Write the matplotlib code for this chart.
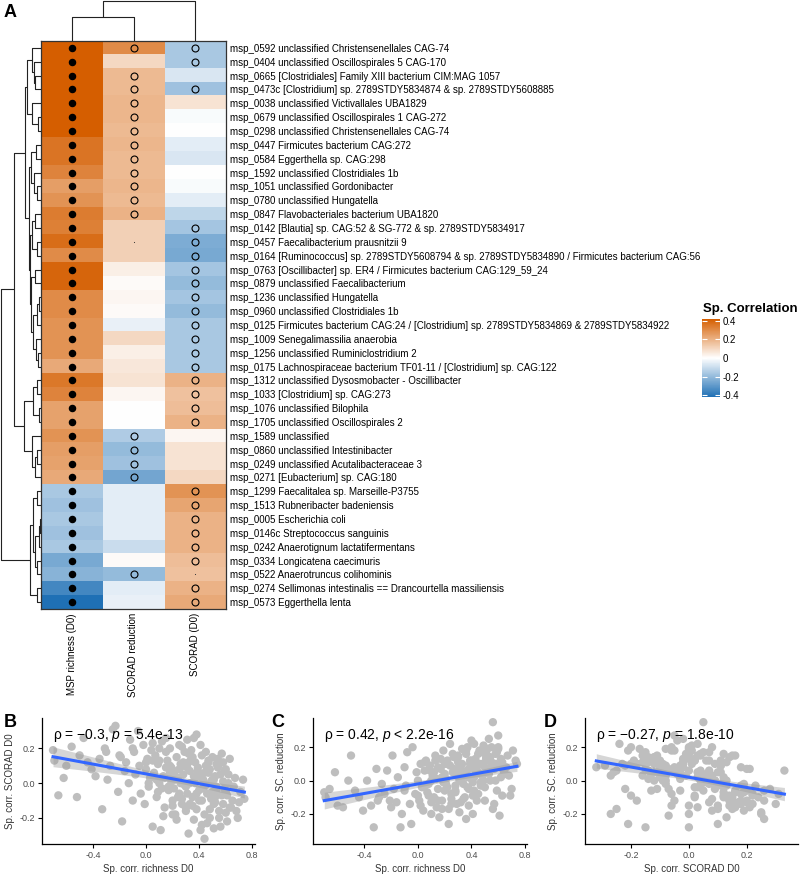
import numpy as np
import matplotlib
matplotlib.use("Agg")
import matplotlib.pyplot as plt
from matplotlib.colors import LinearSegmentedColormap

plt.rcParams['font.family'] = ['Liberation Sans', 'DejaVu Sans']
plt.rcParams['mathtext.fontset'] = 'custom'
plt.rcParams['mathtext.rm'] = 'Liberation Sans'
plt.rcParams['mathtext.it'] = 'Liberation Sans:italic'

# ---------------- heatmap data ----------------
row_labels = [
    "msp_0592 unclassified Christensenellales CAG-74",
    "msp_0404 unclassified Oscillospirales 5 CAG-170",
    "msp_0665 [Clostridiales] Family XIII bacterium CIM:MAG 1057",
    "msp_0473c [Clostridium] sp. 2789STDY5834874 & sp. 2789STDY5608885",
    "msp_0038 unclassified Victivallales UBA1829",
    "msp_0679 unclassified Oscillospirales 1 CAG-272",
    "msp_0298 unclassified Christensenellales CAG-74",
    "msp_0447 Firmicutes bacterium CAG:272",
    "msp_0584 Eggerthella sp. CAG:298",
    "msp_1592 unclassified Clostridiales 1b",
    "msp_1051 unclassified Gordonibacter",
    "msp_0780 unclassified Hungatella",
    "msp_0847 Flavobacteriales bacterium UBA1820",
    "msp_0142 [Blautia] sp. CAG:52 & SG-772 & sp. 2789STDY5834917",
    "msp_0457 Faecalibacterium prausnitzii 9",
    "msp_0164 [Ruminococcus] sp. 2789STDY5608794 & sp. 2789STDY5834890 / Firmicutes bacterium CAG:56",
    "msp_0763 [Oscillibacter] sp. ER4 / Firmicutes bacterium CAG:129_59_24",
    "msp_0879 unclassified Faecalibacterium",
    "msp_1236 unclassified Hungatella",
    "msp_0960 unclassified Clostridiales 1b",
    "msp_0125 Firmicutes bacterium CAG:24 / [Clostridium] sp. 2789STDY5834869 & 2789STDY5834922",
    "msp_1009 Senegalimassilia anaerobia",
    "msp_1256 unclassified Ruminiclostridium 2",
    "msp_0175 Lachnospiraceae bacterium TF01-11 / [Clostridium] sp. CAG:122",
    "msp_1312 unclassified Dysosmobacter - Oscillibacter",
    "msp_1033 [Clostridium] sp. CAG:273",
    "msp_1076 unclassified Bilophila",
    "msp_1705 unclassified Oscillospirales 2",
    "msp_1589 unclassified",
    "msp_0860 unclassified Intestinibacter",
    "msp_0249 unclassified Acutalibacteraceae 3",
    "msp_0271 [Eubacterium] sp. CAG:180",
    "msp_1299 Faecalitalea sp. Marseille-P3755",
    "msp_1513 Rubneribacter badeniensis",
    "msp_0005 Escherichia coli",
    "msp_0146c Streptococcus sanguinis",
    "msp_0242 Anaerotignum lactatifermentans",
    "msp_0334 Longicatena caecimuris",
    "msp_0522 Anaerotruncus colihominis",
    "msp_0274 Sellimonas intestinalis == Drancourtella massiliensis",
    "msp_0573 Eggerthella lenta",
]
col_labels = ["MSP richness (D0)", "SCORAD reduction", "SCORAD (D0)"]

corr_richness = [0.42, 0.42, 0.42, 0.42, 0.42, 0.42, 0.42, 0.36, 0.36, 0.32,
                 0.25, 0.28, 0.34, 0.33, 0.38, 0.30, 0.40, 0.40, 0.30, 0.30,
                 0.28, 0.28, 0.28, 0.22, 0.35, 0.32, 0.24, 0.24, 0.28, 0.25,
                 0.24, 0.22, -0.16, -0.18, -0.16, -0.18, -0.16, -0.25, -0.22,
                 -0.35, -0.42]
corr_reduction = [0.30, 0.10, 0.18, 0.18, 0.19, 0.19, 0.18, 0.19, 0.18, 0.18,
                  0.19, 0.18, 0.20, 0.12, 0.12, 0.12, 0.04, 0.01, 0.02, 0.01,
                  -0.04, 0.10, 0.04, 0.06, 0.07, 0.02, 0.00, 0.00, -0.15, -0.20,
                  -0.18, -0.26, -0.05, -0.05, -0.05, -0.05, -0.10, 0.01, -0.20,
                  -0.05, -0.04]
corr_scorad = [-0.16, -0.16, -0.07, -0.18, 0.07, -0.01, 0.00, -0.05, -0.07, 0.00,
               -0.01, -0.05, -0.12, -0.17, -0.24, -0.25, -0.17, -0.20, -0.17, -0.20,
               -0.16, -0.16, -0.16, -0.16, 0.20, 0.16, 0.17, 0.20, 0.02, 0.07,
               0.07, 0.10, 0.28, 0.23, 0.20, 0.20, 0.20, 0.17, 0.16, 0.20, 0.22]

# F = filled dot, O = open circle, . = tiny dot, - = nothing
sig_richness = "F" * 41
sig_reduction = "O-OOOOOOOOOOO-.-------------OOOO------O--"
sig_scorad = "OO-O---------OOOOOOOOOOOOOOO----OOOOOO.OO"

# dendrograms: (height, left, right), leaves are row / column indices
col_tree = (1.0, (0.6, 0, 1), 2)
row_tree = (1.0,
            (0.675,
             (0.40,
              (0.34,
               (0.23, 0, (0.17, 1, (0.14, 2, 3))),
               (0.22, 4, (0.07, 5, 6))),
              (0.30,
               (0.25, (0.12, 7, 8), (0.18, 9, (0.10, 10, 11))),
               (0.28,
                (0.22, (0.15, 12, 13), (0.10, 14, 15)),
                (0.24, (0.15, 16, 17),
                 (0.20, (0.10, (0.05, 18, 19), 20), (0.12, 21, (0.08, 22, 23))))))),
             (0.425,
              (0.20, (0.10, 24, 25), (0.06, 26, 27)),
              (0.22, 28, (0.15, (0.10, 29, 30), 31)))),
            (0.275,
             (0.20, (0.10, 32, 33),
              (0.15, (0.05, (0.03, 34, 35), 36), (0.10, 37, 38))),
             (0.10, 39, 40)))

# ---------------- scatter data (per-MSP correlations) ----------------
sp_richness = [
    -0.70, -0.69, -0.66, -0.62, -0.60, -0.56, -0.52, -0.50, -0.47, -0.44,
    -0.41, -0.38, -0.35, -0.33, -0.31, -0.29, -0.27, -0.25, -0.23, -0.21,
    -0.19, -0.18, -0.16, -0.15, -0.13, -0.12, -0.10, -0.09, -0.08, -0.06,
    -0.05, -0.04, -0.02, -0.01, 0.00, 0.01, 0.02, 0.03, 0.04, 0.05,
    0.06, 0.07, 0.08, 0.09, 0.10, 0.11, 0.12, 0.13, 0.14, 0.15,
    0.16, 0.17, 0.18, 0.19, 0.20, 0.21, 0.22, 0.23, 0.24, 0.25,
    0.26, 0.27, 0.28, 0.29, 0.30, 0.31, 0.32, 0.33, 0.34, 0.35,
    0.36, 0.37, 0.38, 0.39, 0.40, 0.41, 0.42, 0.43, 0.44, 0.45,
    0.46, 0.47, 0.48, 0.49, 0.50, 0.51, 0.52, 0.53, 0.54, 0.55,
    0.56, 0.57, 0.58, 0.59, 0.60, 0.61, 0.62, 0.63, 0.65, 0.67,
    0.69, 0.71, 0.73, 0.74, 0.18, 0.28, 0.38, 0.48, 0.58, 0.08,
    0.12, 0.22, 0.32, 0.42, 0.52, 0.62, 0.02, 0.15, 0.35, 0.45,
    0.55, 0.25, 0.05, 0.40, 0.30, 0.20, 0.50, 0.60, 0.10, 0.44,
    0.34, 0.24, 0.14, 0.54, 0.64, 0.47, 0.37, 0.27, 0.17, 0.57,
    0.41, 0.46, 0.36, 0.23, 0.56, 0.13, 0.31, 0.51, 0.61, 0.70,
    0.19, 0.29, 0.39, 0.49, 0.09, 0.59, 0.33, 0.43, 0.53, 0.26,
    0.20, 0.30, 0.40, 0.50, 0.35, 0.45, 0.25, 0.15, 0.55, 0.38,
    0.42, 0.48, 0.28, 0.32, 0.52, 0.18, 0.60, 0.66, 0.44, 0.36,
    -0.10, -0.20, 0.00, 0.05, -0.30, 0.10, 0.22, 0.27, 0.33, 0.47,
    0.58, 0.53, 0.43, 0.37, 0.21, 0.31, 0.41, 0.51, 0.63, 0.68,
]
sp_scorad = [
    0.19, 0.13, -0.07, 0.03, 0.10, 0.21, -0.08, 0.16, 0.26, 0.12,
    0.08, 0.04, 0.14, -0.15, 0.20, 0.02, 0.10, 0.31, 0.33, -0.05,
    0.15, -0.22, 0.07, 0.12, 0.00, 0.25, -0.10, 0.18, 0.05, 0.30,
    0.10, -0.06, 0.22, -0.12, 0.08, 0.14, -0.02, 0.03, 0.19, -0.25,
    0.06, 0.16, -0.08, 0.11, 0.00, -0.27, 0.24, 0.04, -0.14, 0.09,
    0.13, -0.04, 0.20, 0.01, -0.10, 0.07, -0.18, 0.15, 0.03, -0.06,
    0.11, -0.12, 0.05, 0.18, -0.02, 0.09, -0.29, 0.00, 0.14, -0.08,
    0.04, 0.12, -0.15, 0.07, -0.04, 0.22, -0.10, 0.02, -0.32, 0.10,
    -0.06, 0.06, -0.20, 0.01, 0.15, -0.12, 0.04, -0.02, 0.09, -0.16,
    0.05, -0.07, 0.12, -0.03, 0.08, -0.22, 0.00, 0.14, -0.10, 0.03,
    -0.20, -0.05, 0.02, -0.09, 0.06, 0.10, -0.06, 0.08, -0.12, 0.02,
    -0.03, 0.02, 0.12, 0.16, -0.08, 0.05, 0.00, 0.18, -0.13, -0.01,
    0.11, 0.08, 0.13, 0.04, -0.16, -0.13, 0.02, -0.05, 0.20, -0.18,
    0.19, -0.08, 0.03, 0.14, -0.14, 0.13, 0.00, 0.21, -0.02, 0.17,
    -0.27, -0.23, 0.26, -0.21, -0.25, -0.19, 0.25, -0.26, -0.07, -0.11,
    0.09, -0.01, 0.09, -0.09, -0.05, 0.07, 0.07, -0.03, 0.11, 0.00,
    -0.18, -0.14, -0.10, -0.05, 0.15, 0.18, 0.22, 0.26, -0.20, 0.28,
    -0.24, -0.15, 0.12, 0.17, -0.11, 0.10, -0.17, -0.02, 0.06, -0.21,
    0.20, 0.16, 0.12, 0.23, 0.18, 0.13, 0.04, -0.09, -0.12, 0.12,
    0.01, -0.04, 0.00, 0.03, -0.03, -0.06, 0.05, 0.02, -0.14, -0.16,
]
sp_reduction = [
    -0.07, -0.10, -0.05, 0.05, -0.15, -0.16, 0.00, 0.15, -0.06, -0.10,
    -0.18, 0.00, -0.15, -0.28, 0.07, -0.10, -0.02, -0.08, 0.06, -0.12,
    0.15, -0.05, -0.13, 0.02, -0.28, -0.20, 0.08, -0.03, 0.17, -0.14,
    -0.26, 0.20, -0.08, 0.05, 0.00, -0.12, 0.10, -0.04, -0.18, 0.06,
    0.12, -0.07, -0.02, 0.09, -0.20, 0.03, -0.10, 0.15, 0.01, -0.05,
    -0.22, 0.07, -0.12, 0.18, 0.04, -0.02, 0.10, -0.17, 0.22, -0.08,
    0.05, 0.14, -0.06, -0.14, 0.11, 0.00, 0.09, 0.19, -0.11, 0.03,
    0.16, -0.04, 0.07, 0.12, 0.24, -0.09, 0.02, 0.13, 0.08, 0.05,
    0.18, -0.01, 0.10, 0.21, -0.12, 0.14, 0.06, 0.25, 0.00, 0.11,
    0.35, 0.07, 0.16, -0.06, 0.20, 0.09, 0.13, -0.09, 0.04, 0.15,
    -0.09, 0.18, 0.12, 0.10, 0.02, -0.03, -0.15, 0.03, 0.00, -0.09,
    0.05, 0.12, 0.00, -0.06, 0.19, 0.02, -0.15, 0.08, 0.04, 0.16,
    0.09, -0.11, 0.11, 0.01, 0.15, -0.06, -0.04, 0.27, -0.13, -0.12,
    -0.02, 0.09, -0.16, 0.14, 0.06, -0.03, 0.20, 0.07, 0.13, -0.14,
    -0.20, 0.10, -0.23, -0.26, -0.17, 0.12, -0.19, 0.05, -0.21, -0.05,
    -0.01, 0.03, 0.10, 0.00, 0.06, 0.17, 0.06, 0.09, 0.12, 0.16,
    0.10, 0.14, 0.12, 0.08, -0.10, -0.08, -0.14, -0.12, 0.20, -0.05,
    0.22, 0.17, -0.07, -0.13, 0.15, -0.17, 0.19, 0.08, 0.04, 0.18,
    -0.06, -0.16, -0.09, -0.03, -0.12, 0.00, -0.04, 0.05, 0.10, -0.02,
    0.10, 0.04, 0.06, 0.02, 0.01, 0.06, -0.01, 0.13, 0.11, 0.03,
]

panels = [
    ("B", sp_richness, sp_scorad, "Sp. corr. richness D0", "Sp. corr. SCORAD D0",
     "ρ = −0.3, $\\it{p}$ = 5.4e-13", (-0.783, 0.82), (-0.35, 0.375),
     [-0.4, 0.0, 0.4, 0.8]),
    ("C", sp_richness, sp_reduction, "Sp. corr. richness D0", "Sp. corr. SC. reduction",
     "ρ = 0.42, $\\it{p}$ < 2.2e-16", (-0.784, 0.815), (-0.38, 0.375),
     [-0.4, 0.0, 0.4, 0.8]),
    ("D", sp_scorad, sp_reduction, "Sp. corr. SCORAD D0", "Sp. corr. SC. reduction",
     "ρ = −0.27, $\\it{p}$ = 1.8e-10", (-0.359, 0.377), (-0.38, 0.375),
     [-0.2, 0.0, 0.2]),
]

W, H = 800, 877


def box(x0, y0, x1, y1):
    """pixel box (top-left origin) -> figure fraction rect"""
    return [x0 / W, 1 - y1 / H, (x1 - x0) / W, (y1 - y0) / H]


def draw_tree(ax, node, side):
    if isinstance(node, int):
        return float(node), 0.0
    h, a, b = node
    pa, ha = draw_tree(ax, a, side)
    pb, hb = draw_tree(ax, b, side)
    if side == "left":
        ax.plot([ha, h, h, hb], [pa, pa, pb, pb], color="#222222", lw=0.8,
                solid_capstyle="butt")
    else:
        ax.plot([pa, pa, pb, pb], [ha, h, h, hb], color="#222222", lw=0.8,
                solid_capstyle="butt")
    return (pa + pb) / 2, h


fig = plt.figure(figsize=(W / 100, H / 100), dpi=100)

cmap = LinearSegmentedColormap.from_list("corr", ["#1F70B5", "#FFFFFF", "#D55E00"])
vmin, vmax = -0.42, 0.42

mat = np.column_stack([corr_richness, corr_reduction, corr_scorad])
nrow = mat.shape[0]

ax_hm = fig.add_axes(box(41, 41, 226, 609))
im = ax_hm.imshow(mat, aspect="auto", cmap=cmap, vmin=vmin, vmax=vmax,
                  interpolation="nearest", extent=(-0.5, 2.5, nrow - 0.5, -0.5))
for j, sig in enumerate([sig_richness, sig_reduction, sig_scorad]):
    for i, s in enumerate(sig):
        if s == "F":
            ax_hm.plot(j, i, "o", ms=4.4, mfc="black", mec="black")
        elif s == "O":
            ax_hm.plot(j, i, "o", ms=5.0, mfc="none", mec="black", mew=0.8)
        elif s == ".":
            ax_hm.plot(j, i, "o", ms=0.8, mfc="#333333", mec="none")
ax_hm.set_xlim(-0.5, 2.5)
ax_hm.set_ylim(nrow - 0.5, -0.5)
ax_hm.set_xticks(range(3))
ax_hm.set_xticklabels(col_labels, rotation=90, fontsize=7)
ax_hm.set_yticks(range(nrow))
ax_hm.set_yticklabels(row_labels, fontsize=7)
ax_hm.yaxis.tick_right()
ax_hm.tick_params(length=0, pad=3)
for sp in ax_hm.spines.values():
    sp.set_color("#333333")
    sp.set_linewidth(0.9)

ax_top = fig.add_axes(box(41, 0, 226, 41))
draw_tree(ax_top, col_tree, "top")
ax_top.set_xlim(-0.5, 2.5)
ax_top.set_ylim(0, 1.03)
ax_top.axis("off")

ax_left = fig.add_axes(box(0, 41, 41, 609))
draw_tree(ax_left, row_tree, "left")
ax_left.set_xlim(1.025, 0)
ax_left.set_ylim(nrow - 0.5, -0.5)
ax_left.axis("off")

cax = fig.add_axes(box(702, 319, 720, 397))
cb = fig.colorbar(im, cax=cax, ticks=[-0.4, -0.2, 0, 0.2, 0.4])
cb.ax.set_yticklabels(["-0.4", "-0.2", "0", "0.2", "0.4"])
cb.outline.set_visible(False)
cb.ax.tick_params(direction="in", color="white", length=3.5, width=0.8,
                  left=True, right=True, labelsize=7, pad=2)
fig.text(703 / W, 1 - 309 / H, "Sp. Correlation", fontsize=9.5, weight="bold",
         va="center", ha="left")

fig.text(4 / W, 1 - 4 / H, "A", fontsize=13, weight="bold", va="top")

# ---------------- scatter panels ----------------
boxes = [(42, 718, 255, 844), (313, 718, 527, 844), (585, 718, 798, 844)]
letter_x = [4, 271, 544]
for (letter, xv, yv, xl, yl, note, xlim, ylim, xt), bx, lx in zip(panels, boxes, letter_x):
    x = np.array(xv)
    y = np.array(yv)
    ax = fig.add_axes(box(*bx))
    ax.scatter(x, y, s=36, color="#BEBEBE", edgecolors="none", zorder=2)
    slope, icpt = np.polyfit(x, y, 1)
    xs = np.linspace(x.min(), x.max(), 80)
    resid = y - (slope * x + icpt)
    mse = np.sum(resid ** 2) / (len(x) - 2)
    se = np.sqrt(mse * (1 / len(x) + (xs - x.mean()) ** 2 / np.sum((x - x.mean()) ** 2)))
    fit = slope * xs + icpt
    ax.fill_between(xs, fit - 1.97 * se, fit + 1.97 * se, color="#999999",
                    alpha=0.4, lw=0, zorder=3)
    ax.plot(xs, fit, color="#3366FF", lw=2.2, zorder=4)
    ax.set_xlim(*xlim)
    ax.set_ylim(*ylim)
    ax.set_xticks(xt)
    ax.set_xticklabels([f"{v:.1f}" for v in xt])
    ax.set_yticks([-0.2, 0.0, 0.2])
    ax.set_yticklabels(["-0.2", "0.0", "0.2"])
    for side in ("top", "right"):
        ax.spines[side].set_visible(False)
    for side in ("left", "bottom"):
        ax.spines[side].set_linewidth(0.9)
    ax.tick_params(labelsize=6.5, length=3, width=0.8, colors="black",
                   labelcolor="#4D4D4D", pad=2)
    ax.set_xlabel(xl, fontsize=7, color="#333333", labelpad=3)
    ax.set_ylabel(yl, fontsize=7, color="#333333", labelpad=3)
    ax.text(0.05, 0.86, note, transform=ax.transAxes, fontsize=10, va="center",
            zorder=5)
    fig.text(lx / W, 1 - 714 / H, letter, fontsize=13, weight="bold", va="top")

fig.savefig("out.png", dpi=100)
